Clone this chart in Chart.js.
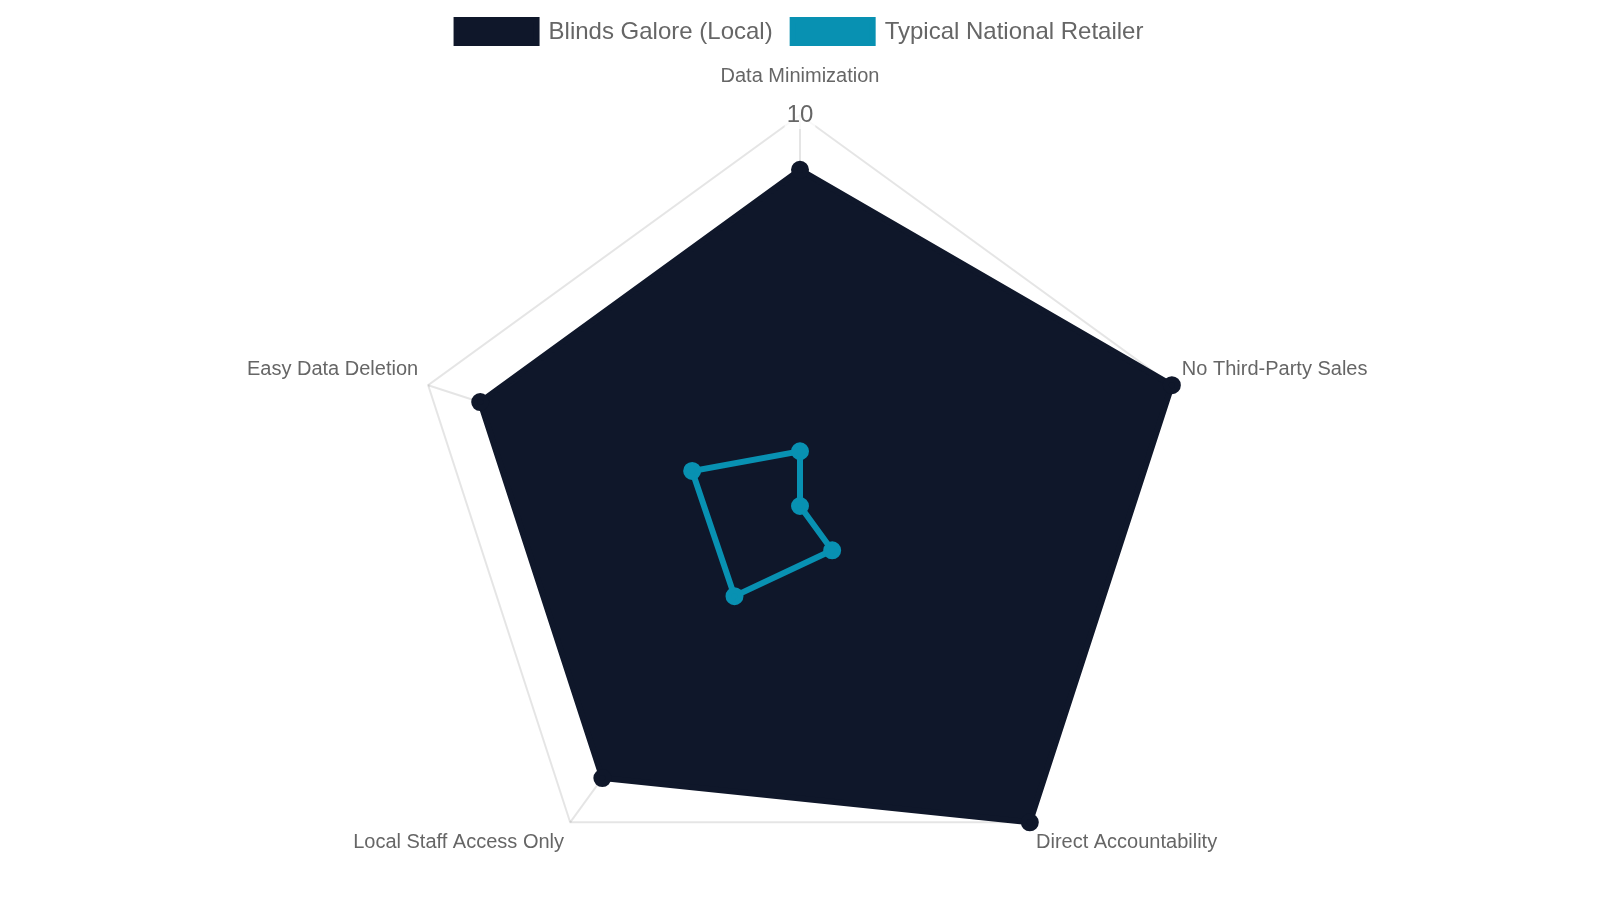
<!DOCTYPE html>
<html>
<head>
<meta charset="utf-8">
<script src="https://cdn.jsdelivr.net/npm/chart.js@4.4.1/dist/chart.umd.min.js"></script>
<style>
  html, body { margin: 0; padding: 0; background: #ffffff; overflow: hidden; }
  #wrap { width: 1600px; height: 930px; position: relative; }
</style>
</head>
<body>
<div id="wrap"><canvas id="chart"></canvas></div>
<script>
const categories = ["Data Minimization", "No Third-Party Sales", "Direct Accountability", "Local Staff Access Only", "Easy Data Deletion"];
const localValues = [8.6, 10, 10, 8.6, 8.6];
const nationalValues = [1.4, 0, 1.4, 2.85, 2.9];
const seriesNames = ["Blinds Galore (Local)", "Typical National Retailer"];
const scaleMin = 0;
const scaleMax = 10;
const scaleStep = 10;

const darkColor = "#0f172a";
const tealColor = "#0891b2";
const textColor = "#666666";
const fontFamily = "'Liberation Sans', Arial, sans-serif";

new Chart(document.getElementById("chart"), {
  type: "radar",
  data: {
    labels: categories,
    datasets: [
      {
        label: seriesNames[0],
        data: localValues,
        backgroundColor: darkColor,
        borderColor: darkColor,
        borderWidth: 6,
        pointBackgroundColor: darkColor,
        pointBorderColor: darkColor,
        pointRadius: 6,
        fill: true,
        order: 2
      },
      {
        label: seriesNames[1],
        data: nationalValues,
        backgroundColor: tealColor,
        borderColor: tealColor,
        borderWidth: 6,
        pointBackgroundColor: tealColor,
        pointBorderColor: tealColor,
        pointRadius: 6,
        fill: false,
        order: 1
      }
    ]
  },
  options: {
    responsive: true,
    maintainAspectRatio: false,
    animation: false,
    plugins: {
      legend: {
        position: "top",
        maxHeight: 46,
        labels: {
          font: { size: 24, family: fontFamily },
          color: textColor,
          boxWidth: 80,
          padding: 20,
          sort: (a, b) => a.datasetIndex - b.datasetIndex
        }
      },
      tooltip: { enabled: false }
    },
    scales: {
      r: {
        min: scaleMin,
        max: scaleMax,
        ticks: {
          stepSize: scaleStep,
          font: { size: 24, family: fontFamily },
          color: textColor
        },
        pointLabels: {
          font: { size: 20, family: fontFamily },
          color: textColor,
          padding: (ctx) => (ctx.index === 0 ? 13 : -3.5)
        },
        grid: { color: "rgba(0,0,0,0.1)", lineWidth: 2 },
        angleLines: { color: "rgba(0,0,0,0.1)", lineWidth: 2 }
      }
    }
  }
});
</script>
</body>
</html>
